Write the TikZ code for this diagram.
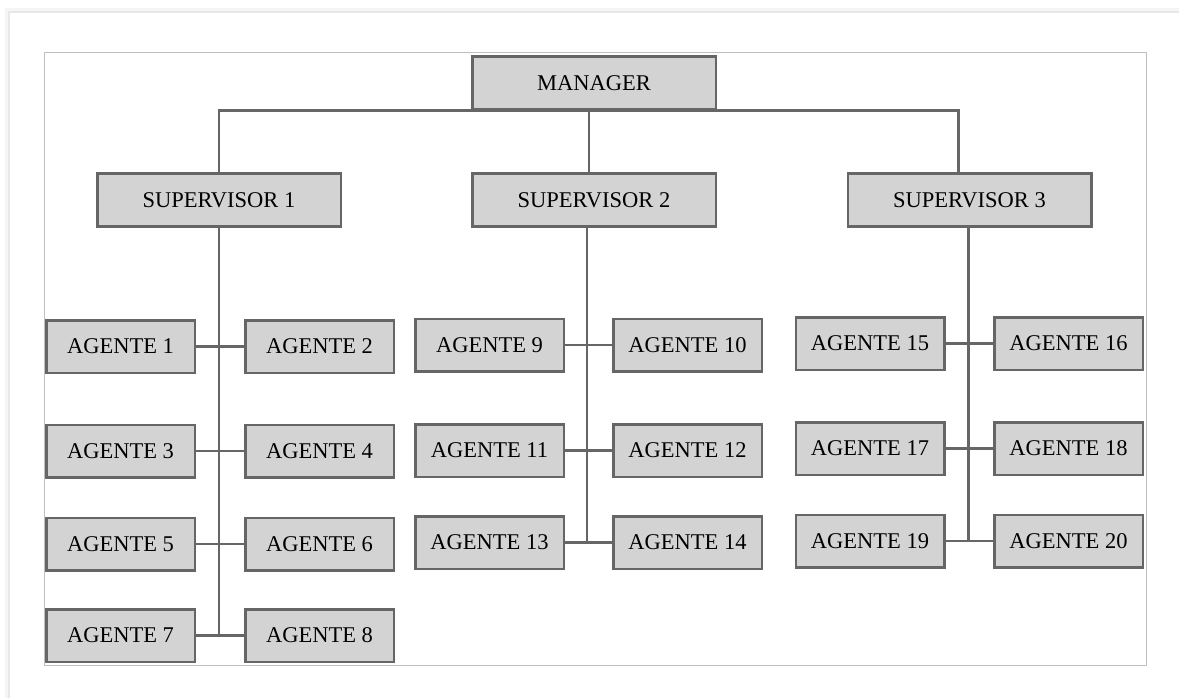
\documentclass[tikz,border=0pt]{standalone}
\usepackage{fontspec}
\setmainfont{Liberation Serif}
\definecolor{boxline}{HTML}{666666}
\definecolor{boxfill}{HTML}{D3D3D3}
\definecolor{framec}{HTML}{C0C0C0}
\begin{document}
\begin{tikzpicture}[x=1pt,y=-1pt,
  bigbox/.style={draw=boxline, fill=boxfill, line width=2.5pt, minimum width=243.5pt, minimum height=52.5pt, inner sep=0pt, font=\fontsize{22.5}{27}\selectfont},
  agbox/.style={draw=boxline, fill=boxfill, line width=2.5pt, minimum width=148.5pt, minimum height=52.5pt, inner sep=0pt, font=\fontsize{22.5}{27}\selectfont},
  conn/.style={draw=boxline, line width=2.4pt}]
\useasboundingbox (0,0) rectangle (1179,698);
% page with shadow
\fill[black!4] (5,8) rectangle (1190,712);
\fill[black!9] (8,11) rectangle (1190,712);
\fill[white] (10,13) rectangle (1190,712);
\draw[framec, line width=1pt] (44,53) rectangle (1146,665);
% connectors manager -> supervisors (drawn first, boxes on top)
\coordinate (mb) at (594,111);
\node[bigbox] (mgr) at (594,83) {MANAGER};
\node[bigbox] (s1) at (219,200) {SUPERVISOR 1};
\node[bigbox] (s2) at (594,200) {SUPERVISOR 2};
\node[bigbox] (s3) at (969.5,200) {SUPERVISOR 3};
% column 1
\node[agbox] (a1) at (120.5,346.5) {AGENTE 1};
\node[agbox] (a2) at (319.5,346.5) {AGENTE 2};
\node[agbox] (a3) at (120.5,451) {AGENTE 3};
\node[agbox] (a4) at (319.5,451) {AGENTE 4};
\node[agbox] (a5) at (120.5,544) {AGENTE 5};
\node[agbox] (a6) at (319.5,544) {AGENTE 6};
\node[agbox] (a7) at (120.5,635.5) {AGENTE 7};
\node[agbox] (a8) at (319.5,635.5) {AGENTE 8};
% column 2
\node[agbox] (a9) at (489.5,345) {AGENTE 9};
\node[agbox] (a10) at (687.5,345) {AGENTE 10};
\node[agbox] (a11) at (489.5,450.5) {AGENTE 11};
\node[agbox] (a12) at (687.5,450.5) {AGENTE 12};
\node[agbox] (a13) at (489.5,542.5) {AGENTE 13};
\node[agbox] (a14) at (687.5,542.5) {AGENTE 14};
% column 3
\node[agbox] (a15) at (870,343.5) {AGENTE 15};
\node[agbox] (a16) at (1068.5,343.5) {AGENTE 16};
\node[agbox] (a17) at (870,448.5) {AGENTE 17};
\node[agbox] (a18) at (1068.5,448.5) {AGENTE 18};
\node[agbox] (a19) at (870,541) {AGENTE 19};
\node[agbox] (a20) at (1068.5,541) {AGENTE 20};
% manager -> supervisors
\draw[conn] (s1.north) |- (mgr.south);
\draw[conn] ([xshift=-11pt]s3.north) |- (mgr.south);
\draw[conn] ([xshift=-5pt]mgr.south) -- ([xshift=-5pt]s2.north);
% supervisor 1 tree
\draw[conn] (s1.south) -- (s1.south |- a7.east);
\draw[conn] (a1.east) -- (a2.west);
\draw[conn] (a3.east) -- (a4.west);
\draw[conn] (a5.east) -- (a6.west);
\draw[conn] (a7.east) -- (a8.west);
% supervisor 2 tree
\coordinate (v2) at ([xshift=-7pt]s2.south);
\draw[conn] (v2) -- (v2 |- a13.east);
\draw[conn] (a9.east) -- (a10.west);
\draw[conn] (a11.east) -- (a12.west);
\draw[conn] (a13.east) -- (a14.west);
% supervisor 3 tree
\coordinate (v3) at ([xshift=-1pt]s3.south);
\draw[conn] (v3) -- (v3 |- a19.east);
\draw[conn] (a15.east) -- (a16.west);
\draw[conn] (a17.east) -- (a18.west);
\draw[conn] (a19.east) -- (a20.west);
\end{tikzpicture}
\end{document}
